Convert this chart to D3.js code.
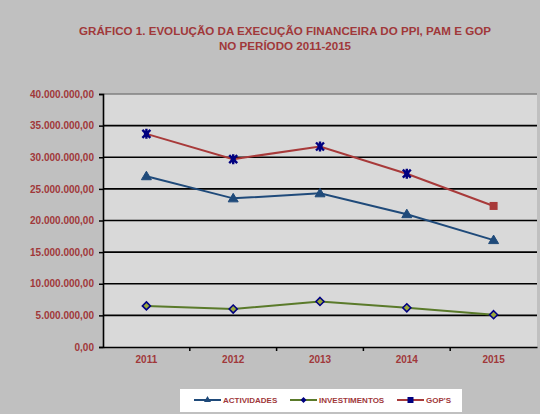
<!DOCTYPE html>
<html><head><meta charset="utf-8">
<script src="https://cdn.jsdelivr.net/npm/d3@7"></script>
<style>body{margin:0;background:#c0c0c0;}svg{display:block;font-family:Arial,"Liberation Sans",sans-serif;}</style>
</head><body>
<svg id="c" width="540" height="414"></svg>
<script>
const categories = ["2011","2012","2013","2014","2015"];
const actividades = [27000000, 23500000, 24300000, 21000000, 16900000];
const investimentos = [6500000, 6000000, 7200000, 6200000, 5100000];
const gops = [33700000, 29700000, 31700000, 27400000, 22300000];
const yTicks = [0,5000000,10000000,15000000,20000000,25000000,30000000,35000000,40000000];
const titleLines = ["GRÁFICO 1. EVOLUÇÃO DA EXECUÇÃO FINANCEIRA DO PPI, PAM E GOP","NO PERÍODO 2011-2015"];
const seriesNames = ["ACTIVIDADES","INVESTIMENTOS","GOP'S"];

const txt = "#a0383a";
const svg = d3.select("#c");
svg.append("rect").attr("width",540).attr("height",414).attr("fill","#c0c0c0");

const L=103, R=537, T=94, B=347;
const x = d3.scaleBand().domain(categories).range([L,R]);
const y = d3.scaleLinear().domain([0,40000000]).range([B,T]);

svg.append("rect").attr("x",L).attr("y",T).attr("width",R-L).attr("height",B-T).attr("fill","#d9d9d9");

const fmt = v => {
  const s = d3.format(",.2f")(v);
  return s.replace(/,/g,"#").replace(".",",").replace(/#/g,".");
};

// gridlines
svg.append("g").selectAll("line").data(yTicks.filter(d=>d>0 && d<40000000)).join("line")
  .attr("x1",L).attr("x2",R).attr("y1",d=>y(d)).attr("y2",d=>y(d))
  .attr("stroke","#000").attr("stroke-width",1.6);
svg.append("line").attr("x1",L).attr("x2",R).attr("y1",y(40000000)).attr("y2",y(40000000)).attr("stroke","#808080").attr("stroke-width",1.5);

// y axis
const ya = svg.append("g").attr("transform",`translate(${L},0)`)
  .call(d3.axisLeft(y).tickValues(yTicks).tickSize(4).tickFormat(fmt));
ya.select(".domain").attr("stroke","#000").attr("stroke-width",1.6);
ya.selectAll(".tick line").attr("stroke","#000").attr("stroke-width",1.5);
ya.selectAll("text").attr("fill",txt).attr("font-weight","bold").attr("font-size","10px")
  .attr("font-family","Arial, 'Liberation Sans', sans-serif").attr("x",-9);

// x axis
const xa = svg.append("g").attr("transform",`translate(0,${B})`)
  .call(d3.axisBottom(x).tickSize(0).tickPadding(9));
xa.select(".domain").attr("stroke","#000").attr("stroke-width",1.6);
xa.selectAll("text").attr("fill",txt).attr("font-weight","bold").attr("font-size","10px")
  .attr("font-family","Arial, 'Liberation Sans', sans-serif");
// category separators
svg.append("g").selectAll("line").data(categories.slice(1)).join("line")
  .attr("x1",d=>x(d)).attr("x2",d=>x(d)).attr("y1",B).attr("y2",B+4)
  .attr("stroke","#000").attr("stroke-width",1.5);

const cx = d => x(d)+x.bandwidth()/2;
const series = [
  {name:seriesNames[0], vals:actividades, color:"#1f4a7a", marker:"tri"},
  {name:seriesNames[1], vals:investimentos, color:"#5a7a2a", marker:"dia"},
  {name:seriesNames[2], vals:gops, color:"#a83a3a", marker:"star"}
];
const line = d3.line().x((d,i)=>cx(categories[i])).y(d=>y(d));

function drawMarker(g, type, px, py, last){
  if(type==="tri"){
    g.append("path").attr("d",`M${px},${py-5}L${px+5},${py+3.5}L${px-5},${py+3.5}Z`).attr("fill","#1f4a7a").attr("stroke","#1f4a7a");
  } else if(type==="dia"){
    g.append("path").attr("d",`M${px},${py-4}L${px+4},${py}L${px},${py+4}L${px-4},${py}Z`).attr("fill","#9aa83a").attr("stroke","#000080").attr("stroke-width",1.6);
  } else {
    if(last){
      g.append("rect").attr("x",px-4).attr("y",py-4).attr("width",8).attr("height",8).attr("fill","#a83a3a");
    } else {
      g.append("path").attr("d",`M${px-4},${py-4}L${px+4},${py+4}M${px+4},${py-4}L${px-4},${py+4}M${px},${py-5}L${px},${py+5}`).attr("stroke","#000080").attr("stroke-width",2.4);
      g.append("rect").attr("x",px-2.5).attr("y",py-2.5).attr("width",5).attr("height",5).attr("fill","#000080");
    }
  }
}

series.forEach(s=>{
  svg.append("path").datum(s.vals).attr("d",line).attr("fill","none").attr("stroke",s.color).attr("stroke-width",2);
  const g = svg.append("g");
  s.vals.forEach((v,i)=>drawMarker(g,s.marker,cx(categories[i]),y(v),i===s.vals.length-1));
});

// title
svg.append("g").selectAll("text").data(titleLines).join("text")
  .attr("x",285).attr("y",(d,i)=>35+i*14.5).attr("text-anchor","middle")
  .attr("fill",txt).attr("font-weight","bold").attr("font-size","11.6px").text(d=>d);

// legend
const lg = svg.append("g");
lg.append("rect").attr("x",180).attr("y",389).attr("width",282).attr("height",23).attr("fill","#fff");
const lx = [194, 290, 397];
series.forEach((s,i)=>{
  const g = lg.append("g");
  g.append("line").attr("x1",lx[i]).attr("x2",lx[i]+27).attr("y1",400).attr("y2",400).attr("stroke",s.color).attr("stroke-width",2);
  const mx = lx[i]+13.5;
  if(s.marker==="tri") g.append("path").attr("d",`M${mx},${396}L${mx+3.5},${402}L${mx-3.5},${402}Z`).attr("fill","#1f4a7a");
  else if(s.marker==="dia") g.append("path").attr("d",`M${mx},${397}L${mx+3},${400}L${mx},${403}L${mx-3},${400}Z`).attr("fill","#000080");
  else g.append("rect").attr("x",mx-3).attr("y",397).attr("width",6).attr("height",6).attr("fill","#000080");
  g.append("text").attr("x",lx[i]+29).attr("y",403).attr("fill",txt).attr("font-weight","bold").attr("font-size","8px").text(s.name);
});
</script>
</body></html>
